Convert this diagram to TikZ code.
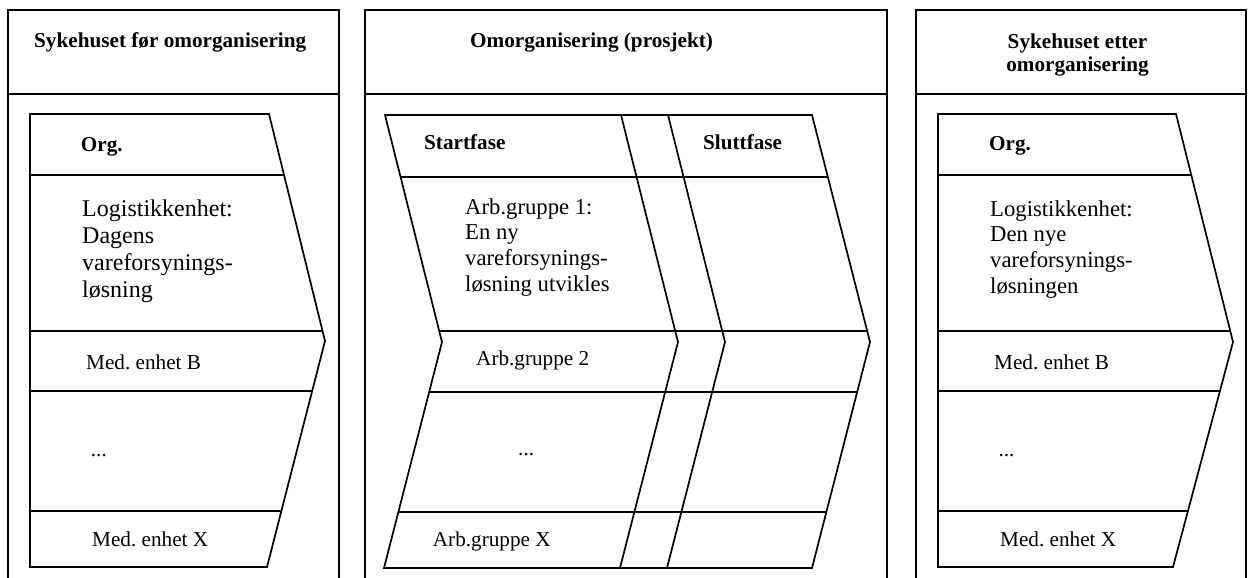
\documentclass[tikz,border=0pt]{standalone}
\usepackage{fontspec}
\setmainfont{Liberation Serif}
\frenchspacing
\newcommand\mlines[1]{\begin{tabular}[t]{@{}l@{}}#1\end{tabular}}
\newcommand\clines[1]{\begin{tabular}[t]{@{}c@{}}#1\end{tabular}}
\tikzset{
  ttl/.style={font=\fontsize{21.2}{23.4}\selectfont\bfseries, inner sep=0pt, anchor=base west},
  big/.style={font=\fontsize{24}{27}\selectfont, inner sep=0pt, anchor=base west},
  mid/.style={font=\fontsize{22.7}{25.7}\selectfont, inner sep=0pt, anchor=base west},
  lab/.style={font=\fontsize{21.2}{24}\selectfont, inner sep=0pt, anchor=base west},
  ln/.style={line width=1.7pt, line join=miter},
}
\begin{document}
\begin{tikzpicture}[x=1pt,y=-1pt]
\useasboundingbox (0,0) rectangle (1248,578);
% ---------- outer frames ----------
\draw[ln] (8,578) -- (8,10) -- (339,10) -- (339,578);
\draw[ln] (8,94) -- (339,94);
\draw[ln] (365,578) -- (365,10) -- (887,10) -- (887,578);
\draw[ln] (365,94) -- (887,94);
\draw[ln] (916,578) -- (916,10) -- (1246,10) -- (1246,578);
\draw[ln] (916,94) -- (1246,94);
% ---------- panel 1 chevron ----------
\begin{scope}
  \clip (30,114) -- (269,114) -- (325,341) -- (267,567) -- (30,567) -- cycle;
  \foreach \yy in {175,331,391,511} \draw[ln] (0,\yy) -- (1248,\yy);
\end{scope}
\draw[ln] (30,114) -- (269,114) -- (325,341) -- (267,567) -- (30,567) -- cycle;
% ---------- panel 2 chevrons ----------
\begin{scope}
  \clip (385,115) -- (812,115) -- (870,342) -- (812,568) -- (384,568) -- (442,342) -- cycle;
  \foreach \yy in {177,331,392,512} \draw[ln] (0,\yy) -- (1248,\yy);
\end{scope}
\draw[ln] (385,115) -- (812,115) -- (870,342) -- (812,568) -- (384,568) -- (442,342) -- cycle;
\draw[ln] (621,115) -- (678,342) -- (620,568);
\draw[ln] (668,115) -- (725,342) -- (667,568);
% ---------- panel 3 chevron ----------
\begin{scope}
  \clip (938,114) -- (1176,114) -- (1233,342) -- (1173,567) -- (938,567) -- cycle;
  \foreach \yy in {175,331,391,511} \draw[ln] (0,\yy) -- (1248,\yy);
\end{scope}
\draw[ln] (938,114) -- (1176,114) -- (1233,342) -- (1173,567) -- (938,567) -- cycle;
% ---------- texts panel 1 ----------
\node[ttl] (t1) at (34,47.7) {Sykehuset før omorganisering};
\node[ttl] (org1) at (80.7,151.7) {Org.};
\node[big] (log1) at (82,216.7) {\mlines{Logistikkenhet:\\Dagens\\vareforsynings-\\løsning}};
\node[lab] (medb1) at (86,369) {Med. enhet B};
\node[lab] (dots1) at (90.7,456.7) {...};
\node[lab] (medx1) at (92,546.7) {Med. enhet X};
% ---------- texts panel 2 ----------
\node[ttl] (t2) at (470,47.7) {Omorganisering (prosjekt)};
\node[ttl] (start) at (424,149.5) {Startfase};
\node[ttl] (slutt) at (703,149.5) {Sluttfase};
\node[mid] (arb1) at (465,214) {\mlines{Arb.gruppe 1:\\En ny\\vareforsynings-\\løsning utvikles}};
\node[lab] (arb2) at (476,365.7) {Arb.gruppe 2};
\node[lab] (dots2) at (518,455) {...};
\node[lab] (arbx) at (432.7,546.7) {Arb.gruppe X};
% ---------- texts panel 3 ----------
\node[ttl, anchor=base] (t3) at (1077.5,48.3) {\clines{Sykehuset etter\\omorganisering}};
\node[ttl] (org3) at (989,150) {Org.};
\node[mid] (log3) at (990,216) {\mlines{Logistikkenhet:\\Den nye\\vareforsynings-\\løsningen}};
\node[lab] (medb3) at (994,369.3) {Med. enhet B};
\node[lab] (dots3) at (998.3,456.7) {...};
\node[lab] (medx3) at (1000,546.7) {Med. enhet X};
\end{tikzpicture}
\end{document}
